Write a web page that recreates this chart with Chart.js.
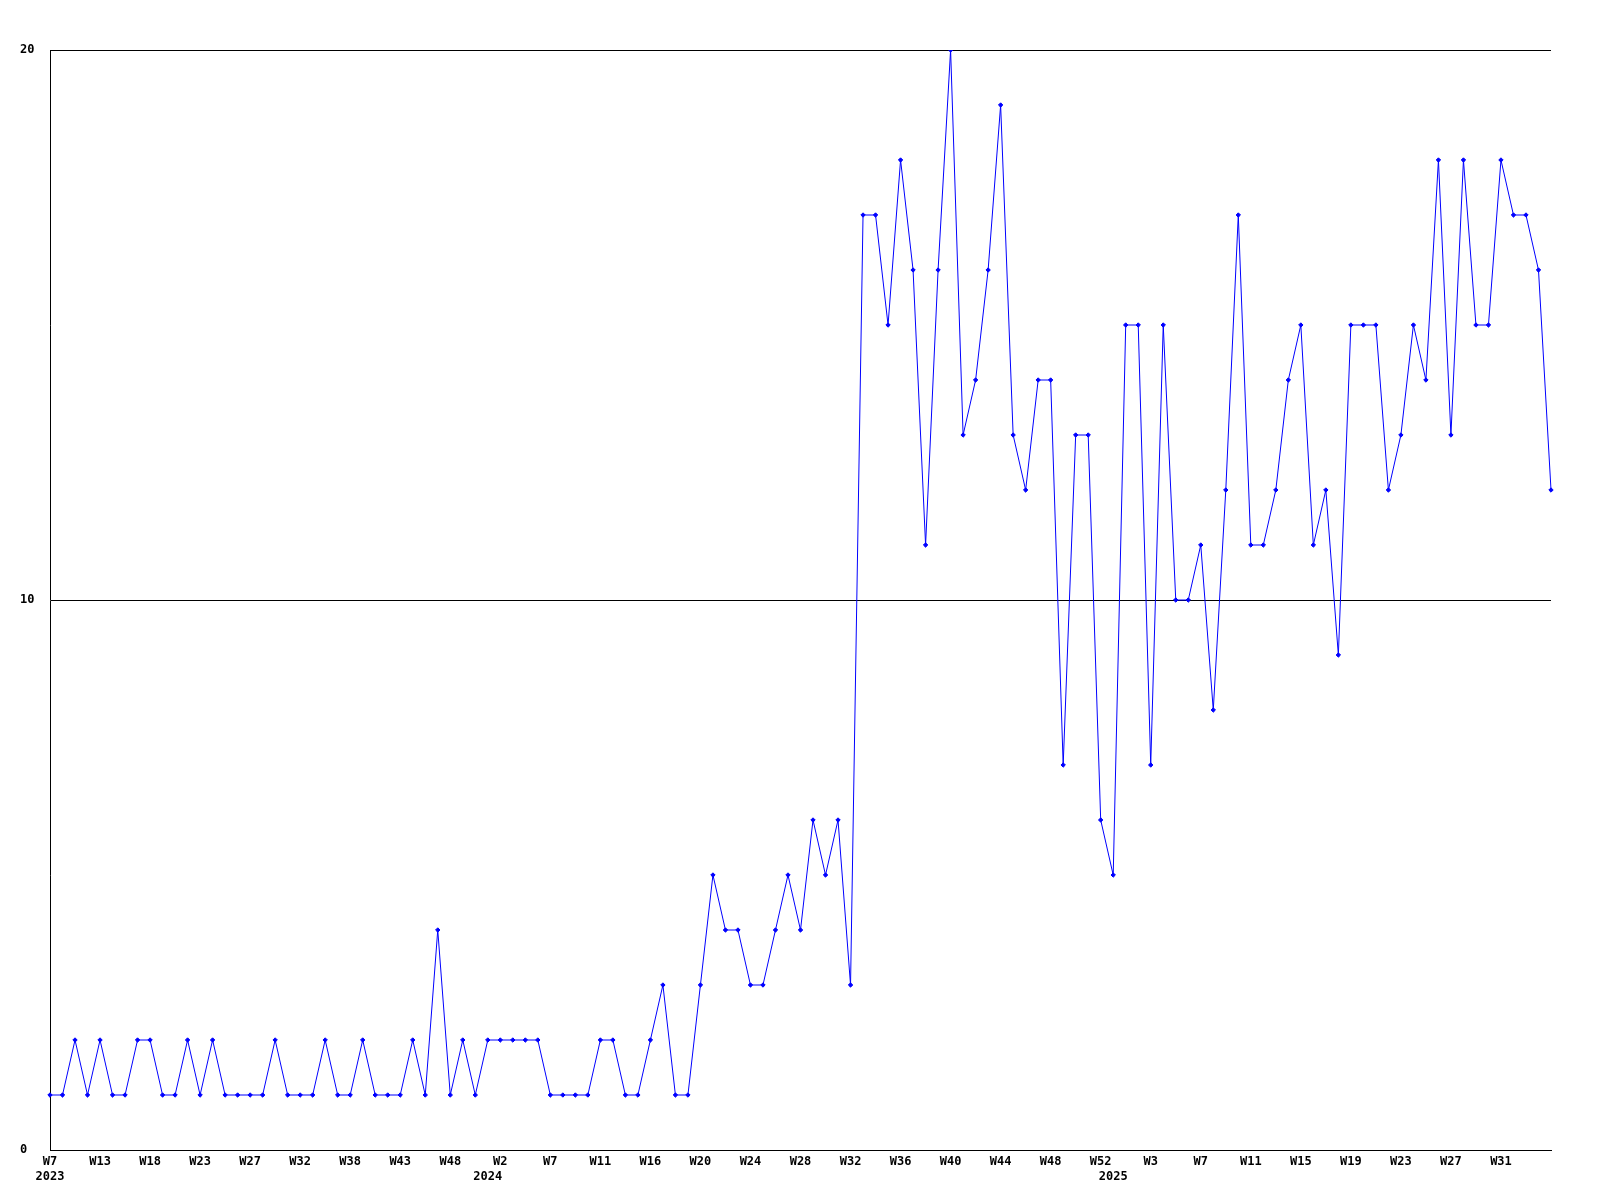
<!DOCTYPE html>
<html>
<head>
<meta charset="utf-8">
<script src="https://cdn.jsdelivr.net/npm/chart.js@4.4.1/dist/chart.umd.min.js"></script>
<style>
html, body { margin: 0; padding: 0; background: #fff; }
#wrap { width: 1600px; height: 1200px; }
</style>
</head>
<body>
<div id="wrap"><canvas id="chart" width="1600" height="1200"></canvas></div>
<script>
// weekly counts, one point per week that has data
const values = [
  1,1,2,1,2,1,1,2,2,1,
  1,2,1,2,1,1,1,1,2,1,
  1,1,2,1,1,2,1,1,1,2,
  1,4,1,2,1,2,2,2,2,2,
  1,1,1,1,2,2,1,1,2,3,
  1,1,3,5,4,4,3,3,4,5,
  4,6,5,6,3,17,17,15,18,16,
  11,16,20,13,14,16,19,13,12,14,
  14,7,13,13,6,5,15,15,7,15,
  10,10,11,8,12,17,11,11,12,14,
  15,11,12,9,15,15,15,12,13,15,
  14,18,13,18,15,15,18,17,17,16,
  12
];

// every 4th point carries a week label
const tickWeeks = ["W7","W13","W18","W23","W27","W32","W38","W43","W48","W2",
                   "W7","W11","W16","W20","W24","W28","W32","W36","W40","W44",
                   "W48","W52","W3","W7","W11","W15","W19","W23","W27","W31"];
const tickEvery = 4;
// year names sit under the first point of each year
const years = ["2023", "2024", "2025"];
const yearStart = [0, 35, 85];
const yTicks = [0, 10, 20];

const labels = values.map((v,i)=>{
  let k = i / tickEvery;
  let week = (i % tickEvery === 0 && k < tickWeeks.length) ? tickWeeks[k] : "";
  let y = yearStart.indexOf(i);
  if(y >= 0) return [week, years[y]];
  return week;
});

const font = {family: "'DejaVu Sans Mono', monospace", size: 12, weight: "bold"};

new Chart(document.getElementById("chart"), {
  type: "line",
  data: {
    labels: labels,
    datasets: [{
      data: values,
      borderColor: "#0000ff",
      backgroundColor: "#0000ff",
      borderWidth: 1,
      tension: 0,
      pointStyle: "rectRot",
      pointRadius: 2.2,
      pointBorderWidth: 1,
      fill: false
    }]
  },
  options: {
    responsive: false,
    devicePixelRatio: 1,
    animation: false,
    layout: {padding: {top: 50, right: 49, left: 20, bottom: 0}},
    plugins: {legend: {display: false}, tooltip: {enabled: false}},
    scales: {
      x: {
        type: "category",
        offset: false,
        grid: {display: false, drawTicks: false},
        border: {display: true, color: "#000", width: 1},
        ticks: {
          autoSkip: false, maxRotation: 0, minRotation: 0,
          color: "#000", font: font, padding: 5
        },
        afterFit: s => { s.height = 50; }
      },
      y: {
        min: 0, max: 20,
        afterBuildTicks: s => { s.ticks = yTicks.map(v=>({value:v})); },
        grid: {color: "#000", lineWidth: 1, drawTicks: false},
        border: {display: true, color: "#000", width: 1},
        ticks: {color: "#000", font: font, padding: 17, crossAlign: "far"},
        afterFit: s => { s.width = 30; }
      }
    }
  }
});
</script>
</body>
</html>
